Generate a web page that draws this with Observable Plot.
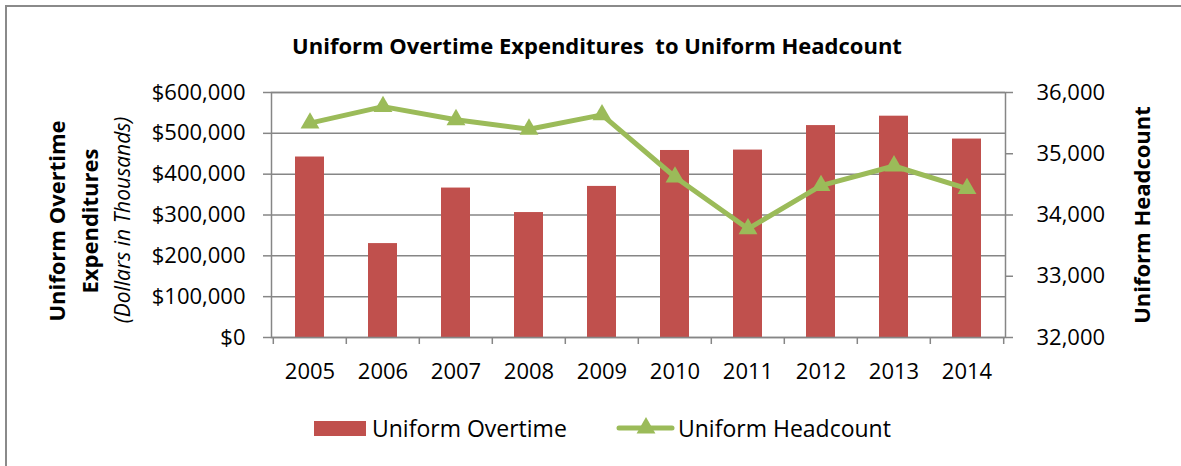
<!DOCTYPE html>
<html>
<head>
<meta charset="utf-8">
<script src="https://cdn.jsdelivr.net/npm/d3@7"></script>
<script src="https://cdn.jsdelivr.net/npm/@observablehq/plot@0.6"></script>
<style>
  html, body { margin: 0; padding: 0; background: #fff; }
  #wrap { position: relative; width: 1181px; height: 466px; overflow: hidden; font-family: "Open Sans", sans-serif; color: #000; }
  #border { position: absolute; left: 5px; top: 5px; width: 1200px; height: 480px; border-top: 2px solid #8a8a8a; border-left: 2px solid #8a8a8a; }
  #chart { position: absolute; left: 0; top: 0; }
  .abs { position: absolute; white-space: nowrap; }
  .rot { transform: translate(-50%, -50%) rotate(-90deg); }
  #title { left: 597px; top: 45px; transform: translate(-50%, -50%); font-weight: bold; font-size: 22px; }
  .ylab { font-weight: bold; font-size: 22px; }
  .legtext { font-size: 23px; transform: translateY(-50%); }
</style>
</head>
<body>
<div id="wrap">
  <div id="border"></div>
  <div id="chart"></div>
</div>
<script>
// ---- data ----
const years = ["2005","2006","2007","2008","2009","2010","2011","2012","2013","2014"];
const overtime = [442000, 230000, 366000, 306000, 370000, 458000, 459000, 519000, 542000, 486000];
const headcount = [35500, 35770, 35555, 35400, 35635, 34620, 33775, 34480, 34800, 34430];
const leftTicks = [0, 100000, 200000, 300000, 400000, 500000, 600000];
const rightTicks = [32000, 33000, 34000, 35000, 36000];
const seriesNames = ["Uniform Overtime", "Uniform Headcount"];
const titleText = "Uniform Overtime Expenditures\u00a0 to Uniform Headcount";
const leftTitle = ["Uniform Overtime", "Expenditures"];
const leftSub = "(Dollars in Thousands)";
const rightTitle = "Uniform Headcount";

// ---- styling ----
const barColor = "#C0504D";
const lineColor = "#9BBB59";
const gridColor = "#868686";

const data = years.map((y, i) => ({year: y, overtime: overtime[i], headcount: headcount[i]}));
const leftMax = 600000, hcMin = 32000, hcMax = 36000;
const toY = h => (h - hcMin) / (hcMax - hcMin) * leftMax;
const toHC = v => hcMin + v / leftMax * (hcMax - hcMin);

const mL = 271, mR = 176, mT = 92, H = 390, mB = 53;
const step = (1181 - mL - mR) / years.length;
const fmt = d3.format(",");

const chart = Plot.plot({
  width: 1181,
  height: H,
  marginLeft: mL,
  marginRight: mR,
  marginTop: mT,
  marginBottom: mB,
  x: {type: "band", domain: years, paddingInner: 0.6, paddingOuter: 0.3},
  y: {domain: [0, leftMax]},
  style: {fontFamily: "Open Sans", fontSize: "22px", color: "#000", background: "transparent", overflow: "visible"},
  marks: [
    Plot.ruleY(leftTicks, {stroke: gridColor, strokeWidth: 1.5}),
    Plot.barY(data, {x: "year", y: "overtime", fill: barColor}),
    Plot.frame({stroke: gridColor, strokeWidth: 1.5}),
    Plot.ruleX(years, {x: d => d, dx: -step / 2, insetTop: H - mT - mB, insetBottom: -7, stroke: gridColor, strokeWidth: 1.5}),
    Plot.ruleX([years[years.length - 1]], {x: d => d, dx: step / 2, insetTop: H - mT - mB, insetBottom: -7, stroke: gridColor, strokeWidth: 1.5}),
    Plot.axisY({ticks: leftTicks, tickFormat: d => "$" + fmt(d), tickSize: 8, tickPadding: 18, stroke: gridColor, strokeWidth: 1.5, fill: "#000", label: null, fontSize: 22}),
    Plot.axisY({anchor: "right", ticks: rightTicks.map(toY), tickFormat: d => fmt(Math.round(toHC(d))), tickSize: 7, tickPadding: 24, stroke: gridColor, strokeWidth: 1.5, fill: "#000", label: null, fontSize: 22}),
    Plot.axisX({tickSize: 0, tickPadding: 26, label: null, fill: "#000", fontSize: 22}),
    Plot.line(data, {x: "year", y: d => toY(d.headcount), stroke: lineColor, strokeWidth: 5}),
    Plot.dot(data, {x: "year", y: d => toY(d.headcount), symbol: "triangle", r: 7, fill: lineColor, stroke: "none"})
  ]
});
document.getElementById("chart").appendChild(chart);

const wrap = document.getElementById("wrap");
function addDiv(text, cls, css) {
  const d = document.createElement("div");
  d.className = "abs " + cls;
  d.textContent = text;
  Object.assign(d.style, css);
  wrap.appendChild(d);
  return d;
}
addDiv(titleText, "", {}).id = "title";
addDiv(leftTitle[0], "rot ylab", {left: "56px", top: "221px"});
addDiv(leftTitle[1], "rot ylab", {left: "89px", top: "221px"});
addDiv(leftSub, "rot", {left: "122px", top: "220px", fontStyle: "italic", fontSize: "21px"});
addDiv(rightTitle, "rot ylab", {left: "1141px", top: "215px"});

// legend
const sw = document.createElement("div");
sw.className = "abs";
Object.assign(sw.style, {left: "314px", top: "421px", width: "52px", height: "15px", background: barColor});
wrap.appendChild(sw);
addDiv(seriesNames[0], "legtext", {left: "372px", top: "428px"});
const ns = "http://www.w3.org/2000/svg";
const lg = document.createElementNS(ns, "svg");
lg.setAttribute("width", 60); lg.setAttribute("height", 30);
Object.assign(lg.style, {position: "absolute", left: "615px", top: "414px"});
const ln = document.createElementNS(ns, "line");
ln.setAttribute("x1", 4); ln.setAttribute("x2", 57); ln.setAttribute("y1", 14); ln.setAttribute("y2", 14);
ln.setAttribute("stroke", lineColor); ln.setAttribute("stroke-width", 5); ln.setAttribute("stroke-linecap", "round");
lg.appendChild(ln);
const tri = document.createElementNS(ns, "path");
tri.setAttribute("d", d3.symbol(d3.symbolTriangle, 7 * 7 * Math.PI)());
tri.setAttribute("transform", "translate(31,14)");
tri.setAttribute("fill", lineColor);
lg.appendChild(tri);
wrap.appendChild(lg);
addDiv(seriesNames[1], "legtext", {left: "678px", top: "428px"});
</script>
</body>
</html>
